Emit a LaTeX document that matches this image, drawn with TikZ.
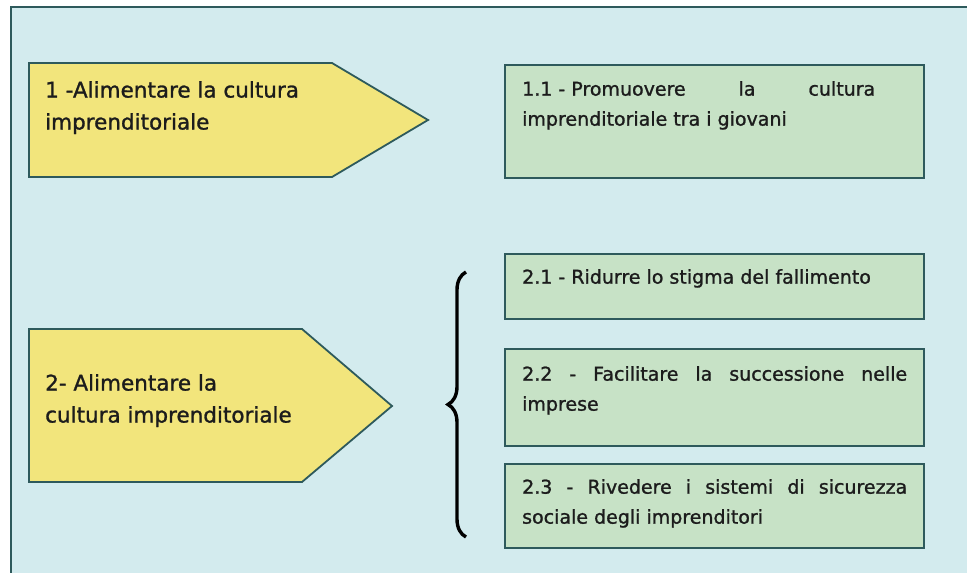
\documentclass[tikz,border=0pt]{standalone}
\usepackage{fontspec}
\setmainfont{DejaVu Sans}[FakeBold=1.2]
\usetikzlibrary{decorations.pathreplacing}
\hyphenpenalty=10000
\exhyphenpenalty=10000
\definecolor{bgblue}{HTML}{D3EBEE}
\definecolor{ylw}{HTML}{F2E57C}
\definecolor{grn}{HTML}{C7E2C6}
\definecolor{edgec}{HTML}{2E5A5C}
\definecolor{txt}{HTML}{1C1C1C}
\begin{document}
\begin{tikzpicture}[x=1pt,y=-1pt,
  pent/.style={draw=edgec, fill=ylw, line width=1.8pt, line join=miter},
  gbox/.style={draw=edgec, fill=grn, line width=2pt, anchor=north west, inner sep=0pt},
  ptext/.style={anchor=north west, inner sep=0pt, text=txt, align=left,
    font=\fontsize{21.5}{32}\selectfont},
  btext/.style={anchor=north west, inner sep=0pt, text=txt, align=justify,
    font=\fontsize{19}{30}\selectfont}
]
\useasboundingbox (0,0) rectangle (967,573);
\fill[white] (0,0) rectangle (967,573);
\fill[bgblue] (11,7) rectangle (967,573);
\draw[edgec, line width=2pt] (11,573) -- (11,7) -- (967,7);

% left arrows
\draw[pent] (29,63) -- (332,63) -- (428,120) -- (332,177) -- (29,177) -- cycle;
\node[ptext] (p1) at (45,81) {1 -Alimentare la cultura\\imprenditoriale};

\draw[pent] (29,329) -- (302,329) -- (392,406) -- (302,482) -- (29,482) -- cycle;
\node[ptext] (p2) at (45,374) {2- Alimentare la\\cultura imprenditoriale};

% green boxes
\node[gbox, minimum width=419pt, minimum height=113pt] (b11) at (504,64) {};
\node[btext, text width=353pt] (t11) at (522,81) {\mbox{1.1 - Promuovere} la cultura imprenditoriale tra i giovani};

\node[gbox, minimum width=419pt, minimum height=65pt] (b21) at (504,253) {};
\node[btext, text width=385pt] (t21) at (522,269) {2.1 - Ridurre lo stigma del fallimento};

\node[gbox, minimum width=419pt, minimum height=97pt] (b22) at (504,348) {};
\node[btext, text width=385pt] (t22) at (522,366) {2.2 - Facilitare la successione nelle imprese};

\node[gbox, minimum width=419pt, minimum height=84pt] (b23) at (504,463) {};
\node[btext, text width=385pt] (t23) at (522,479) {2.3 - Rivedere i sistemi di sicurezza sociale degli imprenditori};

% brace
\coordinate (brb) at (466,537);
\coordinate (brt) at (466,272);
\draw[black, line width=3.4pt, decorate, decoration={brace, amplitude=18pt}] (brb) -- (brt);
\end{tikzpicture}
\end{document}
